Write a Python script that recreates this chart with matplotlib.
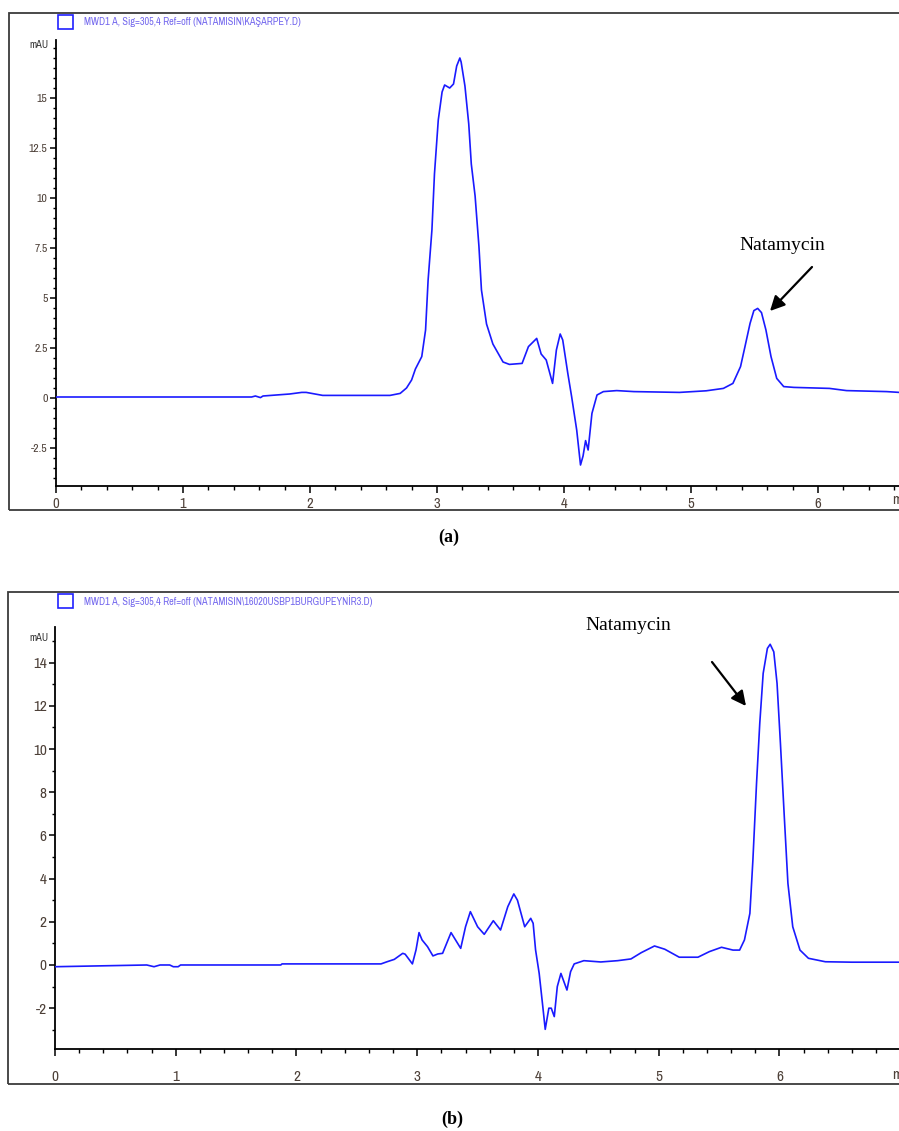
"""
HPLC chromatograms of natamycin (two samples), redrawn from the figure.
"""

import matplotlib
matplotlib.use("Agg")
import matplotlib.pyplot as plt
from matplotlib import font_manager
from matplotlib.patches import Rectangle, FancyArrowPatch
from matplotlib.ticker import MultipleLocator

W, H = 899, 1131

# ---- panel (a): retention time (min) vs signal (mAU)
a_time = [0.0, 1.54, 1.57, 1.61, 1.63, 1.84, 1.935, 1.97, 2.10, 2.63,
          2.71, 2.76, 2.80, 2.83, 2.88, 2.91, 2.93, 2.96, 2.98, 3.01,
          3.04, 3.06, 3.10, 3.13, 3.155, 3.18, 3.19, 3.22, 3.25, 3.27,
          3.30, 3.33, 3.35, 3.39, 3.44, 3.52, 3.57, 3.67, 3.72, 3.785,
          3.82, 3.86, 3.91, 3.94, 3.97, 3.99, 4.03, 4.06, 4.10, 4.13,
          4.15, 4.17, 4.19, 4.22, 4.26, 4.31, 4.415, 4.55, 4.91, 5.12,
          5.255, 5.33, 5.39, 5.425, 5.465, 5.495, 5.525, 5.555, 5.59, 5.63,
          5.675, 5.73, 5.81, 6.09, 6.225, 6.54, 6.64]
a_value = [0.05, 0.05, 0.1, 0.02, 0.1, 0.2, 0.28, 0.28, 0.13, 0.13,
           0.23, 0.5, 0.9, 1.45, 2.07, 3.4, 5.9, 8.4, 11.2, 13.9,
           15.3, 15.65, 15.5, 15.7, 16.6, 17.0, 16.8, 15.6, 13.7, 11.7,
           10.1, 7.6, 5.4, 3.7, 2.7, 1.8, 1.68, 1.73, 2.57, 2.98,
           2.2, 1.9, 0.73, 2.4, 3.2, 2.9, 1.23, 0.07, -1.6, -3.35,
           -2.9, -2.13, -2.6, -0.77, 0.15, 0.32, 0.37, 0.32, 0.28, 0.36,
           0.48, 0.73, 1.57, 2.57, 3.73, 4.37, 4.48, 4.27, 3.4, 2.07,
           0.98, 0.57, 0.53, 0.48, 0.37, 0.32, 0.28]

# ---- panel (b)
b_time = [0.0, 0.76, 0.82, 0.87, 0.95, 0.98, 1.02, 1.04, 1.87, 1.88,
          2.70, 2.75, 2.81, 2.88, 2.90, 2.96, 2.99, 3.015, 3.04, 3.085,
          3.13, 3.17, 3.21, 3.28, 3.36, 3.40, 3.44, 3.50, 3.555, 3.63,
          3.69, 3.75, 3.80, 3.83, 3.89, 3.94, 3.96, 3.98, 4.01, 4.04,
          4.06, 4.09, 4.11, 4.135, 4.16, 4.19, 4.24, 4.27, 4.30, 4.38,
          4.52, 4.66, 4.77, 4.855, 4.965, 5.05, 5.17, 5.325, 5.42, 5.52,
          5.615, 5.67, 5.71, 5.755, 5.78, 5.81, 5.837, 5.865, 5.90, 5.923,
          5.953, 5.98, 6.008, 6.04, 6.07, 6.11, 6.17, 6.24, 6.38, 6.60,
          7.0]
b_value = [-0.08, 0.0, -0.08, 0.0, 0.0, -0.08, -0.08, 0.0, 0.0, 0.05,
           0.05, 0.15, 0.26, 0.54, 0.5, 0.05, 0.7, 1.5, 1.16, 0.85,
           0.42, 0.51, 0.54, 1.5, 0.77, 1.77, 2.47, 1.77, 1.42, 2.05,
           1.62, 2.7, 3.29, 3.0, 1.77, 2.16, 1.93, 0.7, -0.39, -1.93,
           -2.98, -2.0, -2.0, -2.39, -1.0, -0.39, -1.16, -0.31, 0.05, 0.2,
           0.14, 0.2, 0.28, 0.57, 0.88, 0.73, 0.36, 0.36, 0.62, 0.82,
           0.69, 0.69, 1.16, 2.39, 4.86, 8.4, 11.2, 13.5, 14.66, 14.85,
           14.5, 13.04, 10.26, 6.87, 3.78, 1.77, 0.69, 0.31, 0.15, 0.13,
           0.13]

a_legend = "MWD1 A, Sig=305,4 Ref=off (NATAMISIN\\KAŞARPEY.D)"
b_legend = "MWD1 A, Sig=305,4 Ref=off (NATAMISIN\\16020USBP1BURGUPEYNİR3.D)"

names = {f.name for f in font_manager.fontManager.ttflist}
NARROW = "Archivo Narrow" if "Archivo Narrow" in names else "DejaVu Sans"
SERIF = "Liberation Serif"
LINE = "#1a1aff"
TICKC = "#4d4038"


def fx(x):
    return x / W


def fy(y):
    return 1 - y / H


def panel(fig, box, t, v, xmax, ylim, ymaj, ymin_step, ylab_max, ytick_fs, xtick_fs,
          legend, frame, mau_y, min_y, xpad):
    l, top, r, bot = box
    ax = fig.add_axes([fx(l), fy(bot), fx(r - l), (bot - top) / H])
    ax.plot(t, v, color=LINE, lw=1.2, zorder=3)
    ax.set_xlim(0, xmax)
    ax.set_ylim(*ylim)
    ax.spines["top"].set_visible(False)
    ax.spines["right"].set_visible(False)
    for s in ("left", "bottom"):
        ax.spines[s].set_linewidth(1.3)
    ax.xaxis.set_minor_locator(MultipleLocator(0.2))
    ax.yaxis.set_minor_locator(MultipleLocator(ymin_step))
    ax.tick_params(axis="x", which="major", length=5, width=1.1, pad=xpad)
    ax.tick_params(axis="x", which="minor", length=3, width=1.0)
    ax.tick_params(axis="y", which="major", length=4, width=1.1, pad=2)
    ax.tick_params(axis="y", which="minor", length=2.5, width=1.0)
    xt = list(range(int(xmax) + 1))
    ax.set_xticks(xt)
    ax.set_xticklabels([str(k) for k in xt], fontsize=xtick_fs, family=NARROW, color=TICKC)
    yt = []
    k = 0.0
    while k >= ylim[0]:
        yt.insert(0, k)
        k -= ymaj
    k = ymaj
    while k <= ylab_max:
        yt.append(k)
        k += ymaj
    ax.set_yticks(yt)
    ax.set_yticklabels([f"{k:g}" for k in yt], fontsize=ytick_fs, family=NARROW, color=TICKC)

    # outer frame of the exported ChemStation window
    fl, ft, fb = frame
    fig.add_artist(Rectangle((fx(fl), fy(fb)), 1.2, (fb - ft) / H, transform=fig.transFigure,
                             fill=False, ec="#3a3a3a", lw=1.3))
    # legend swatch + trace name
    ly = ft + 9
    fig.add_artist(Rectangle((fx(58), fy(ly + 7)), fx(15), 14 / H, transform=fig.transFigure,
                             fill=False, ec="#2020ff", lw=1.2))
    fig.text(fx(84), fy(ly), legend, fontsize=7.4, family=NARROW,
             color="#7468ee", ha="left", va="center")
    fig.text(fx(48), fy(mau_y), "mAU", fontsize=7.5, family=NARROW,
             color="#333333", ha="right", va="center")
    fig.text(fx(892), fy(min_y), "min", fontsize=xtick_fs, family=NARROW,
             color=TICKC, ha="left", va="center")
    return ax


fig = plt.figure(figsize=(W / 100, H / 100), dpi=100)
fig.patch.set_facecolor("white")

panel(fig, (56, 40, 899, 486), a_time, a_value, (899 - 56) / 127, (-4.4, 17.9), 2.5, 0.5, 15,
      8.5, 10.5, a_legend, (9, 13, 510), 45, 500, 3)
panel(fig, (55, 627, 899, 1049), b_time, b_value, 6.99, (-3.89, 15.65), 2, 1, 14,
      11, 11, b_legend, (8, 592, 1084), 638, 1075, 10)

# peak annotations
arrow = dict(arrowstyle="-|>", color="black", lw=1.6, mutation_scale=22, shrinkA=0, shrinkB=0)
fig.text(fx(782), fy(245), "Natamycin", fontsize=14, family=SERIF, ha="center", va="center")
fig.add_artist(FancyArrowPatch((fx(812), fy(267)), (fx(770), fy(311)),
                               transform=fig.transFigure, **arrow))
fig.text(fx(628), fy(626), "Natamycin", fontsize=14, family=SERIF, ha="center", va="center")
fig.add_artist(FancyArrowPatch((fx(712), fy(662)), (fx(746), fy(706)),
                               transform=fig.transFigure, **arrow))

# captions
fig.text(fx(449), fy(537), "(a)", fontsize=13, family=SERIF, weight="bold", ha="center", va="center")
fig.text(fx(452), fy(1119), "(b)", fontsize=13, family=SERIF, weight="bold", ha="center", va="center")

fig.savefig("out.png", dpi=100, facecolor="white")
